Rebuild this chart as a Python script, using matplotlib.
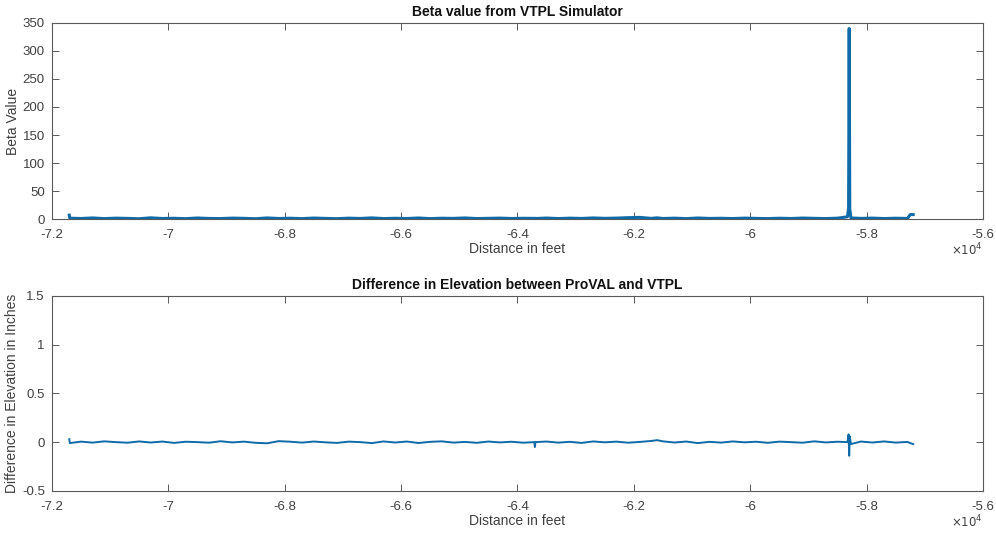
import matplotlib
matplotlib.use("Agg")
import matplotlib.pyplot as plt
from matplotlib.ticker import FuncFormatter

# ---------------------------------------------------------------------------
# Data
# ---------------------------------------------------------------------------

DISTANCE_FT = [
    -71700, -71690, -71500, -71300, -71100, -70900, -70700, -70500, -70300, -70100,
    -69900, -69700, -69500, -69300, -69100, -68900, -68700, -68500, -68300, -68100,
    -67900, -67700, -67500, -67300, -67100, -66900, -66700, -66500, -66300, -66100,
    -65900, -65700, -65500, -65300, -65100, -64900, -64700, -64500, -64300, -64100,
    -63900, -63710, -63700, -63690, -63500, -63300, -63100, -62900, -62700, -62500,
    -62300, -62100, -61900, -61700, -61600, -61500, -61300, -61100, -60900, -60700,
    -60500, -60300, -60100, -59900, -59700, -59500, -59300, -59100, -58900, -58700,
    -58500, -58330, -58310, -58300, -58290, -58270, -58100, -57900, -57700, -57500,
    -57300, -57250, -57200,
]

BETA_VALUE = [
    7.0, 1.5, 1.0, 2.0, 0.8, 1.6, 1.2, 0.6, 2.2, 1.0,
    1.4, 0.7, 1.9, 1.1, 0.9, 1.7, 1.3, 0.6, 2.0, 1.0,
    1.5, 0.8, 1.8, 1.2, 0.7, 1.6, 1.1, 2.1, 0.9, 1.4,
    1.0, 1.9, 0.8, 1.5, 1.2, 2.0, 0.9, 1.3, 1.7, 1.0,
    1.4, 1.2, 1.5, 1.0, 1.8, 0.9, 1.6, 1.1, 2.0, 1.3,
    1.7, 2.5, 3.0, 1.2, 2.2, 1.0, 1.6, 0.8, 1.9, 1.1,
    1.4, 0.9, 1.7, 1.2, 0.8, 1.5, 1.0, 1.8, 1.3, 0.9,
    1.6, 4.0, 20.0, 340.0, 18.0, 2.0, 1.2, 1.7, 0.9, 1.5,
    1.1, 8.0, 8.0,
]

ELEV_DIFF_IN = [
    0.03, -0.01, 0.005, -0.005, 0.008, 0.0, -0.006, 0.007, -0.004, 0.006,
    -0.008, 0.004, 0.0, -0.006, 0.009, -0.003, 0.005, -0.007, -0.012, 0.01,
    0.004, -0.005, 0.006, -0.002, -0.008, 0.005, 0.0, -0.01, 0.007, -0.004,
    0.006, -0.009, 0.003, 0.008, -0.005, 0.002, -0.007, 0.006, -0.003, 0.004,
    -0.006, 0.0, -0.05, 0.0, 0.006, -0.005, 0.003, -0.008, 0.007, -0.002,
    0.005, -0.006, 0.002, 0.012, 0.02, 0.008, -0.004, 0.006, -0.01, 0.003,
    -0.005, 0.007, -0.002, 0.004, -0.007, 0.005, 0.0, -0.006, 0.008, -0.003,
    0.004, 0.0, 0.08, -0.14, 0.06, -0.02, 0.006, -0.004, 0.007, -0.005,
    0.002, -0.01, -0.02,
]

X_TICKS = [-72000, -70000, -68000, -66000, -64000, -62000, -60000, -58000, -56000]
BETA_TICKS = [0, 50, 100, 150, 200, 250, 300, 350]
DIFF_TICKS = [-0.5, 0, 0.5, 1, 1.5]

assert len(DISTANCE_FT) == len(BETA_VALUE) == len(ELEV_DIFF_IN)

# ---------------------------------------------------------------------------
# Style (MATLAB-ish)
# ---------------------------------------------------------------------------

plt.rcParams["font.family"] = ["Liberation Sans", "DejaVu Sans"]
plt.rcParams["axes.unicode_minus"] = False

LINE_COLOR = "#0f6aa8"
AX_COLOR = "#5a5a5a"
TXT_COLOR = "#404040"


def fmt_tick(v, _pos):
    return f"{v:g}"


def fmt_x(v, _pos):
    return f"{v / 1e4:g}"


def style_axes(ax, yticks, ylim):
    ax.set_xlim(-72000, -56000)
    ax.set_ylim(*ylim)
    ax.set_xticks(X_TICKS)
    ax.set_yticks(yticks)
    ax.xaxis.set_major_formatter(FuncFormatter(fmt_x))
    ax.yaxis.set_major_formatter(FuncFormatter(fmt_tick))
    ax.tick_params(direction="in", length=5, width=0.7, color=AX_COLOR,
                   labelcolor=TXT_COLOR, labelsize=9.5,
                   top=True, right=True)
    ax.tick_params(axis="x", pad=7)
    ax.tick_params(axis="y", pad=5)
    for s in ax.spines.values():
        s.set_color(AX_COLOR)
        s.set_linewidth(0.8)
    ax.set_xlabel("Distance in feet", fontsize=10, color=TXT_COLOR, labelpad=1)
    ax.text(1.0, -0.16, r"$\times10^4$", transform=ax.transAxes,
            ha="right", va="center", fontsize=8.5, color=TXT_COLOR)


fig = plt.figure(figsize=(9.96, 5.33), dpi=100)
ax1 = fig.add_axes([0.052, 0.589, 0.935, 0.368])
ax2 = fig.add_axes([0.052, 0.079, 0.935, 0.366])

ax1.plot(DISTANCE_FT, BETA_VALUE, color=LINE_COLOR, lw=2.2)
style_axes(ax1, BETA_TICKS, (0, 350))
ax1.set_ylabel("Beta Value", fontsize=10, color=TXT_COLOR, labelpad=2)
ax1.set_title("Beta value from VTPL Simulator", fontsize=10, fontweight="bold",
              color="#111111", pad=5)

ax2.plot(DISTANCE_FT, ELEV_DIFF_IN, color=LINE_COLOR, lw=1.4)
style_axes(ax2, DIFF_TICKS, (-0.5, 1.5))
ax2.set_ylabel("Difference in Elevation in Inches", fontsize=10,
               color=TXT_COLOR, labelpad=2)
ax2.set_title("Difference in Elevation between ProVAL and VTPL", fontsize=10,
              fontweight="bold", color="#111111", pad=5)

fig.savefig("out.png", dpi=100)
plt.close(fig)
